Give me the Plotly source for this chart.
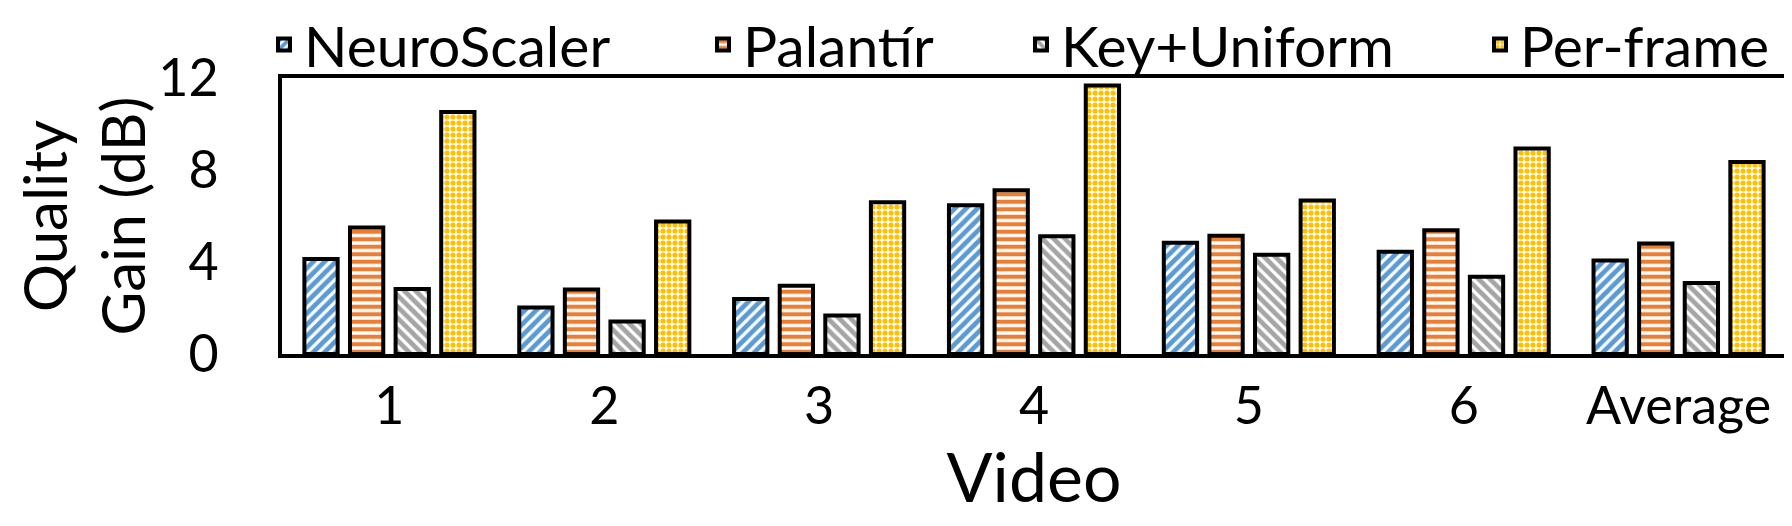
import plotly.graph_objects as go

categories = ["1", "2", "3", "4", "5", "6", "Average"]
neuroscaler = [4.13, 2.02, 2.39, 6.47, 4.84, 4.45, 4.06]
palantir = [5.50, 2.80, 2.97, 7.12, 5.14, 5.38, 4.80]
key_uniform = [2.83, 1.41, 1.67, 5.12, 4.32, 3.36, 3.09]
per_frame = [10.52, 5.76, 6.60, 11.67, 6.67, 8.93, 8.35]

series = [
    ("NeuroScaler", neuroscaler, "#5B9BD5", "/", 8, 0.6),
    ("Palantír", palantir, "#ED7D31", "-", 7.5, 0.55),
    ("Key+Uniform", key_uniform, "#A5A5A5", "\\", 8, 0.6),
    ("Per-frame", per_frame, "#FFC000", ".", 6, 0.6),
]
legend_ids = ["legend", "legend2", "legend3", "legend4"]
legend_x_px = [256, 695, 1013, 1472]

FONT = "Lato"
W, H = 1792, 526

fig = go.Figure()
for (name, vals, color, shape, size, sol), lid in zip(series, legend_ids):
    fig.add_trace(go.Bar(
        name=name, x=categories, y=vals, legend=lid,
        marker=dict(
            color="white",
            line=dict(color="black", width=4),
            pattern=dict(shape=shape, fgcolor=color, bgcolor="white",
                         size=size, solidity=sol, fillmode="replace"),
        ),
    ))

legend_common = dict(
    orientation="h", xref="container", yref="container",
    xanchor="left", y=1 - 37 / H, yanchor="middle",
    font=dict(size=57, family=FONT), bgcolor="rgba(0,0,0,0)",
    itemwidth=30,
)
layout_legends = {}
for lid, xp in zip(legend_ids, legend_x_px):
    layout_legends[lid] = dict(legend_common, x=xp / W)

fig.update_layout(
    width=W, height=H,
    margin=dict(l=274, r=14, t=70, b=180, pad=0, autoexpand=False),
    paper_bgcolor="white", plot_bgcolor="white",
    barmode="group", bargap=0.151, bargroupgap=0.27,
    font=dict(family=FONT, color="black"),
    showlegend=True,
    **layout_legends,
)
fig.update_xaxes(
    automargin=False,
    showline=True, linecolor="black", linewidth=4, mirror=True,
    showgrid=False, ticks="", tickfont=dict(size=52, family=FONT),
    ticklabelstandoff=4,
    title=dict(text="Video", font=dict(size=68, family=FONT), standoff=12),
)
fig.update_yaxes(
    automargin=True,
    range=[0, 12], dtick=4, tick0=0,
    showline=True, linecolor="black", linewidth=4, mirror=True,
    showgrid=False, zeroline=False, ticks="", tickfont=dict(size=52, family=FONT),
    ticklabelstandoff=49,
    title=dict(text="Quality<br>Gain (dB)", font=dict(size=60, family=FONT), standoff=6),
)

fig.write_html("out.html")
